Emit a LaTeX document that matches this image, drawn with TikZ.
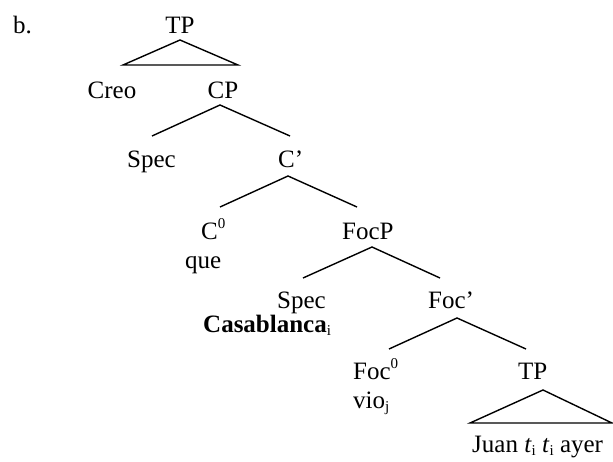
\documentclass[tikz,border=0pt]{standalone}
\usepackage{fontspec}
\setmainfont{Liberation Serif}
\newcommand\Sup[1]{\raisebox{11pt}{\fontsize{15}{15}\selectfont #1}}
\newcommand\Sub[1]{\raisebox{-3pt}{\fontsize{15}{15}\selectfont #1}}
\begin{document}
\begin{tikzpicture}[x=1pt,y=-1pt,
  lbl/.style={inner sep=0pt, anchor=base west, font=\fontsize{25}{30}\selectfont},
  br/.style={line width=1.4pt}]
\useasboundingbox (0,0) rectangle (613,461);
\node[lbl] (b) at (13,33) {b.};
% top TP with triangle
\node[lbl, anchor=base] (tp1) at (180,33) {TP};
\coordinate (tp1a) at (180,40);
\coordinate (tp1l) at (123,65);
\coordinate (tp1r) at (238,65);
\draw[br] (tp1l) -- (tp1a) -- (tp1r) -- cycle;
\node[lbl, anchor=base] (creo) at (112,98) {Creo};
\node[lbl, anchor=base] (cp) at (223,98) {CP};
% CP branches
\coordinate (cpa) at (220,105);
\coordinate (cpl) at (152,136);
\coordinate (cpr) at (290,136);
\draw[br] (cpl) -- (cpa) -- (cpr);
\node[lbl] (spec1) at (127,167) {Spec};
\node[lbl] (cbar) at (278,167) {C’};
% C' branches
\coordinate (cba) at (288,176);
\coordinate (cbl) at (220,207);
\coordinate (cbr) at (357,207);
\draw[br] (cbl) -- (cba) -- (cbr);
\node[lbl] (c0) at (201,239) {C\Sup{0}};
\node[lbl] (que) at (185,268) {que};
\node[lbl] (focp) at (342,239) {FocP};
% FocP branches
\coordinate (fpa) at (372,247);
\coordinate (fpl) at (303,278);
\coordinate (fpr) at (440,278);
\draw[br] (fpl) -- (fpa) -- (fpr);
\node[lbl] (spec2) at (277,308) {Spec};
\node[lbl] (casa) at (203,332) {\textbf{Casablanca}\Sub{i}};
\node[lbl] (focbar) at (428,308) {Foc’};
% Foc' branches
\coordinate (fba) at (457,318);
\coordinate (fbl) at (389,349);
\coordinate (fbr) at (526,349);
\draw[br] (fbl) -- (fba) -- (fbr);
\node[lbl] (foc0) at (353,379) {Foc\Sup{0}};
\node[lbl] (vio) at (353,408) {vio\Sub{j}};
\node[lbl] (tp2) at (518,379) {TP};
% lower TP triangle
\coordinate (tp2a) at (543,390);
\coordinate (tp2l) at (470,423);
\coordinate (tp2r) at (612,423);
\draw[br] (tp2l) -- (tp2a) -- (tp2r) -- cycle;
\node[lbl] (juan) at (472,452) {Juan \textit{t}\Sub{i} \textit{t}\Sub{i} ayer};
\end{tikzpicture}
\end{document}
